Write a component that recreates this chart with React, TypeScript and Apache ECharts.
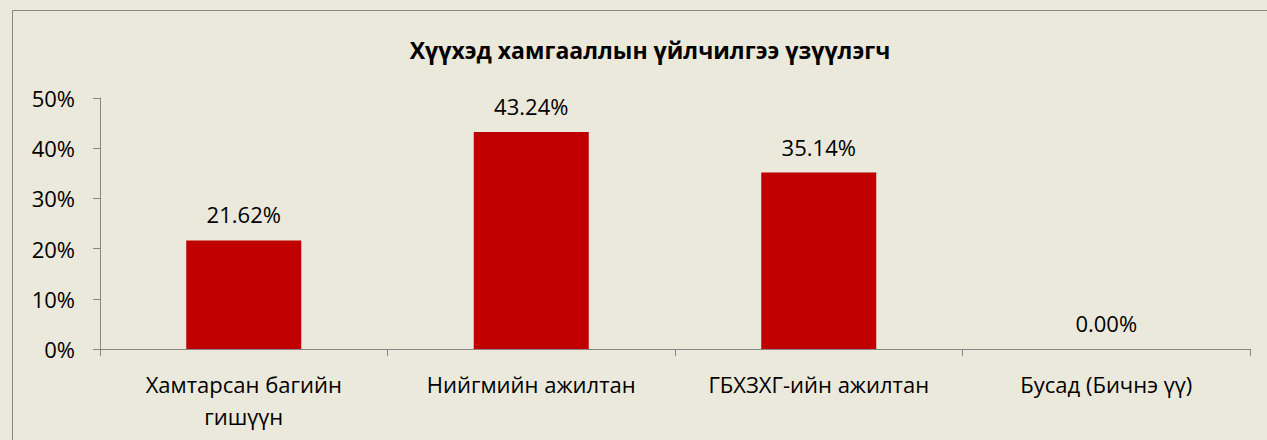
import React, { useEffect, useRef } from "react";
import * as echarts from "echarts";

const title = "Хүүхэд хамгааллын үйлчилгээ үзүүлэгч";
const categories = ["Хамтарсан багийн\nгишүүн", "Нийгмийн ажилтан", "ГБХЗХГ-ийн ажилтан", "Бусад (Бичнэ үү)"];
const values = [0.2162, 0.4324, 0.3514, 0];
const yTicks = { min: 0, max: 0.5, interval: 0.1 };

const FONT = "'Open Sans', 'Noto Sans', sans-serif";

export default function App() {
  const ref = useRef<HTMLDivElement>(null);
  useEffect(() => {
    if (!ref.current) return;
    const chart = echarts.init(ref.current, null, { renderer: "svg" });
    chart.setOption({
      animation: false,
      backgroundColor: "#EBE9DB",
      textStyle: { fontFamily: FONT },
      title: {
        text: title,
        left: 645,
        top: 33,
        textAlign: "center",
        textStyle: { fontFamily: FONT, fontSize: 23, fontWeight: "bold", color: "#000" },
      },
      graphic: [
        {
          type: "rect",
          shape: { x: 12.5, y: 10.5, width: 1400, height: 600 },
          style: { fill: "none", stroke: "#868686", lineWidth: 1 },
          silent: true,
        },
      ],
      grid: { left: 100, right: 17, top: 98, bottom: 91, containLabel: false },
      xAxis: {
        type: "category",
        data: categories,
        axisLine: { show: true, lineStyle: { color: "#868686", width: 1 } },
        axisTick: { show: true, alignWithLabel: false, length: 7, lineStyle: { color: "#868686" } },
        axisLabel: {
          color: "#000",
          fontSize: 22,
          fontFamily: FONT,
          margin: 19,
          lineHeight: 32,
          interval: 0,
        },
      },
      yAxis: {
        type: "value",
        min: yTicks.min,
        max: yTicks.max,
        interval: yTicks.interval,
        splitLine: { show: false },
        axisLine: { show: true, lineStyle: { color: "#868686", width: 1 } },
        axisTick: { show: true, length: 7, lineStyle: { color: "#868686" } },
        axisLabel: {
          color: "#000",
          fontSize: 22,
          fontFamily: FONT,
          margin: 25,
          formatter: (v: number) => `${Math.round(v * 100)}%`,
        },
      },
      series: [
        {
          type: "bar",
          data: values,
          barWidth: "40%",
          itemStyle: { color: "#C00000" },
          label: {
            show: true,
            position: "top",
            distance: 15,
            color: "#000",
            fontSize: 22,
            fontFamily: FONT,
            formatter: (p: any) => `${(p.value * 100).toFixed(2)}%`,
          },
        },
      ],
    });
    return () => chart.dispose();
  }, []);
  return (
    <div
      ref={ref}
      style={{ position: "absolute", left: 0, top: 0, width: 1267, height: 440 }}
    />
  );
}
